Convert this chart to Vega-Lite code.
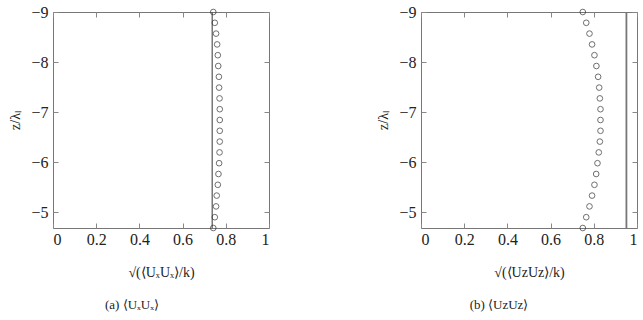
{
  "$schema": "https://vega.github.io/schema/vega-lite/v6.json",
  "background": "white",
  "padding": {"left": 8, "top": 3, "right": 2, "bottom": 5},
  "spacing": 106,
  "config": {
    "view": {"stroke": "#777", "strokeWidth": 1},
    "axis": {"domain": false, "grid": false, "tickColor": "#888", "tickSize": -5, "labelFont": "Liberation Serif", "labelFontSize": 16, "labelColor": "#222", "titleFont": "Liberation Serif", "titleFontWeight": "normal", "titleColor": "#222", "titleFontSize": 14},
    "title": {"font": "Liberation Serif", "fontSize": 13, "fontWeight": "normal", "color": "#222"}
  },
  "datasets": {
    "ux": [
      {"z": -9.0, "v": 0.742}, {"z": -8.784, "v": 0.749}, {"z": -8.568, "v": 0.755}, {"z": -8.352, "v": 0.760},
      {"z": -8.136, "v": 0.763}, {"z": -7.92, "v": 0.765}, {"z": -7.704, "v": 0.768}, {"z": -7.488, "v": 0.769},
      {"z": -7.272, "v": 0.771}, {"z": -7.056, "v": 0.772}, {"z": -6.84, "v": 0.772}, {"z": -6.624, "v": 0.772},
      {"z": -6.408, "v": 0.772}, {"z": -6.192, "v": 0.771}, {"z": -5.976, "v": 0.769}, {"z": -5.76, "v": 0.766},
      {"z": -5.544, "v": 0.763}, {"z": -5.328, "v": 0.758}, {"z": -5.112, "v": 0.755}, {"z": -4.896, "v": 0.749},
      {"z": -4.68, "v": 0.742}
    ],
    "uz": [
      {"z": -9.0, "v": 0.749}, {"z": -8.784, "v": 0.765}, {"z": -8.568, "v": 0.780}, {"z": -8.352, "v": 0.792},
      {"z": -8.136, "v": 0.803}, {"z": -7.92, "v": 0.812}, {"z": -7.704, "v": 0.820}, {"z": -7.488, "v": 0.825},
      {"z": -7.272, "v": 0.828}, {"z": -7.056, "v": 0.831}, {"z": -6.84, "v": 0.831}, {"z": -6.624, "v": 0.831},
      {"z": -6.408, "v": 0.828}, {"z": -6.192, "v": 0.823}, {"z": -5.976, "v": 0.817}, {"z": -5.76, "v": 0.811},
      {"z": -5.544, "v": 0.803}, {"z": -5.328, "v": 0.792}, {"z": -5.112, "v": 0.780}, {"z": -4.896, "v": 0.765},
      {"z": -4.68, "v": 0.749}
    ],
    "refx": [{"v": 0.737}],
    "refz": [{"v": 0.951}]
  },
  "hconcat": [
    {
      "width": 216, "height": 216,
      "title": {"text": "(a) ⟨UₓUₓ⟩", "orient": "bottom", "dx": -29, "offset": 20},
      "resolve": {"axis": {"x": "independent", "y": "independent"}},
      "layer": [
        {
          "data": {"name": "refx"},
          "mark": {"type": "rule", "color": "#555", "strokeWidth": 1.2},
          "encoding": {
            "x": {"field": "v", "type": "quantitative", "scale": {"domain": [0, 1], "nice": false},
                  "axis": {"values": [0, 0.2, 0.4, 0.6, 0.8, 1], "format": "~g", "labelPadding": 8, "title": "√(⟨UₓUₓ⟩/k)", "titlePadding": 18}}
          }
        },
        {
          "data": {"name": "ux"},
          "mark": {"type": "point", "shape": "circle", "filled": false, "size": 32, "color": "#333", "strokeWidth": 1},
          "encoding": {
            "x": {"field": "v", "type": "quantitative", "scale": {"domain": [0, 1], "nice": false},
                  "axis": {"orient": "top", "values": [0, 0.2, 0.4, 0.6, 0.8, 1], "labels": false, "title": null}},
            "y": {"field": "z", "type": "quantitative", "scale": {"domain": [-9, -4.68], "nice": false, "zero": false, "reverse": true},
                  "axis": {"values": [-9, -8, -7, -6, -5], "labelPadding": 10, "title": "z/λₗ", "titlePadding": 8}}
          }
        },
        {
          "data": {"name": "ux"},
          "mark": {"type": "point", "opacity": 0},
          "encoding": {
            "x": {"field": "v", "type": "quantitative", "scale": {"domain": [0, 1], "nice": false}, "axis": null},
            "y": {"field": "z", "type": "quantitative", "scale": {"domain": [-9, -4.68], "nice": false, "zero": false, "reverse": true},
                  "axis": {"orient": "right", "values": [-9, -8, -7, -6, -5], "labels": false, "title": null}}
          }
        }
      ]
    },
    {
      "width": 216, "height": 216,
      "title": {"text": "(b) ⟨UzUz⟩", "orient": "bottom", "dx": -30, "offset": 20},
      "resolve": {"axis": {"x": "independent", "y": "independent"}},
      "layer": [
        {
          "data": {"name": "refz"},
          "mark": {"type": "rule", "color": "#777", "strokeWidth": 1.8},
          "encoding": {
            "x": {"field": "v", "type": "quantitative", "scale": {"domain": [0, 1], "nice": false},
                  "axis": {"values": [0, 0.2, 0.4, 0.6, 0.8, 1], "format": "~g", "labelPadding": 8, "title": "√(⟨UzUz⟩/k)", "titlePadding": 18}}
          }
        },
        {
          "data": {"name": "uz"},
          "mark": {"type": "point", "shape": "circle", "filled": false, "size": 32, "color": "#333", "strokeWidth": 1},
          "encoding": {
            "x": {"field": "v", "type": "quantitative", "scale": {"domain": [0, 1], "nice": false},
                  "axis": {"orient": "top", "values": [0, 0.2, 0.4, 0.6, 0.8, 1], "labels": false, "title": null}},
            "y": {"field": "z", "type": "quantitative", "scale": {"domain": [-9, -4.68], "nice": false, "zero": false, "reverse": true},
                  "axis": {"values": [-9, -8, -7, -6, -5], "labelPadding": 10, "title": "z/λₗ", "titlePadding": 8}}
          }
        },
        {
          "data": {"name": "uz"},
          "mark": {"type": "point", "opacity": 0},
          "encoding": {
            "x": {"field": "v", "type": "quantitative", "scale": {"domain": [0, 1], "nice": false}, "axis": null},
            "y": {"field": "z", "type": "quantitative", "scale": {"domain": [-9, -4.68], "nice": false, "zero": false, "reverse": true},
                  "axis": {"orient": "right", "values": [-9, -8, -7, -6, -5], "labels": false, "title": null}}
          }
        }
      ]
    }
  ]
}
